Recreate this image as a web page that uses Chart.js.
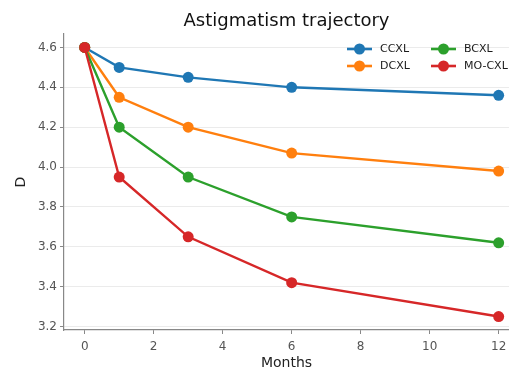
<!DOCTYPE html>
<html lang="en">
<head>
<meta charset="UTF-8">
<title>Astigmatism trajectory</title>
<style>
    body { margin: 0; padding: 0; background: #fff; }
    .wrap { width: 509px; height: 372px; position: relative; }
    canvas { width: 100% !important; height: 100% !important; }
</style>
<script src="https://cdn.jsdelivr.net/npm/chart.js"></script>
</head>
<body>
<div class="wrap"><canvas id="chart"></canvas></div>
<script>
// data
const months = [0, 1, 3, 6, 12];
const seriesNames = ['CCXL', 'DCXL', 'BCXL', 'MO-CXL'];
const ccxl = [4.60, 4.50, 4.45, 4.40, 4.36];
const dcxl = [4.60, 4.35, 4.20, 4.07, 3.98];
const bcxl = [4.60, 4.20, 3.95, 3.75, 3.62];
const mocxl = [4.60, 3.95, 3.65, 3.42, 3.25];
const xTicks = [0, 2, 4, 6, 8, 10, 12];
const yTicks = [3.2, 3.4, 3.6, 3.8, 4.0, 4.2, 4.4, 4.6];

const colors = ['#1f77b4', '#ff7f0e', '#2ca02c', '#d62728'];
const allValues = [ccxl, dcxl, bcxl, mocxl];
const FONT = "'DejaVu Sans', sans-serif";

const datasets = allValues.map(function(vals, i) {
    return {
        label: seriesNames[i],
        data: months.map(function(m, j) { return { x: m, y: vals[j] }; }),
        borderColor: colors[i],
        backgroundColor: colors[i],
        borderWidth: 2.4,
        pointRadius: 5.5,
        pointHoverRadius: 5.5,
        pointBorderWidth: 0,
        order: allValues.length - i,
        tension: 0
    };
});

// title centred over the axes, like matplotlib
const axesTitle = {
    id: 'axesTitle',
    afterDraw(chart) {
        const ctx = chart.ctx, a = chart.chartArea;
        ctx.save();
        ctx.font = '18px ' + FONT;
        ctx.fillStyle = '#111';
        ctx.textAlign = 'center';
        ctx.textBaseline = 'middle';
        ctx.fillText('Astigmatism trajectory', (a.left + a.right) / 2, 21);
        ctx.restore();
    }
};

// matplotlib-like legend inside the axes, two columns
const innerLegend = {
    id: 'innerLegend',
    afterDraw(chart) {
        const ctx = chart.ctx;
        const cols = [347, 431];
        const rows = [49, 66];
        ctx.save();
        ctx.font = '11px ' + FONT;
        ctx.textBaseline = 'middle';
        chart.data.datasets.forEach(function(ds, i) {
            const col = Math.floor(i / 2), row = i % 2;
            const x = cols[col], y = rows[row];
            ctx.strokeStyle = ds.borderColor;
            ctx.lineWidth = 2.6;
            ctx.beginPath();
            ctx.moveTo(x, y);
            ctx.lineTo(x + 25, y);
            ctx.stroke();
            ctx.fillStyle = ds.borderColor;
            ctx.beginPath();
            ctx.arc(x + 12.5, y, 5.5, 0, Math.PI * 2);
            ctx.fill();
            ctx.fillStyle = '#1a1a1a';
            ctx.fillText(ds.label, x + 33, y);
        });
        ctx.restore();
    }
};

new Chart(document.getElementById('chart').getContext('2d'), {
    type: 'line',
    data: { datasets: datasets },
    options: {
        responsive: true,
        maintainAspectRatio: false,
        animation: false,
        layout: { autoPadding: false, padding: { left: 0, right: 0, top: 34, bottom: 0 } },
        plugins: {
            legend: { display: false },
            tooltip: { enabled: false },
            title: { display: false }
        },
        scales: {
            x: {
                type: 'linear',
                min: -0.6,
                max: 12.3,
                afterBuildTicks(scale) { scale.ticks = xTicks.map(function(v) { return { value: v }; }); },
                afterFit(scale) { scale.height = 42; scale.paddingRight = 0; },
                border: { display: true, color: '#888', width: 1.2 },
                grid: { display: true, drawOnChartArea: false, drawTicks: true, tickLength: 4, tickColor: '#888' },
                ticks: { color: '#555', font: { family: FONT, size: 12 }, padding: 6, maxRotation: 0 },
                title: { display: true, text: 'Months', color: '#222', font: { family: FONT, size: 14 }, padding: { top: 3, bottom: 0 } }
            },
            y: {
                type: 'linear',
                min: 3.1825,
                max: 4.6675,
                afterBuildTicks(scale) { scale.ticks = yTicks.map(function(v) { return { value: v }; }); },
                afterFit(scale) { scale.width = 64; },
                border: { display: true, color: '#888', width: 1.2 },
                grid: { display: true, color: '#ebebeb', lineWidth: 1, drawTicks: true, tickLength: 4, tickColor: '#888' },
                ticks: { color: '#555', font: { family: FONT, size: 12 }, padding: 3,
                         callback: function(v) { return v.toFixed(1); } },
                title: { display: true, text: 'D', color: '#222', font: { family: FONT, size: 14 }, padding: { top: 13, bottom: 0 } }
            }
        }
    },
    plugins: [axesTitle, innerLegend]
});
</script>
</body>
</html>
